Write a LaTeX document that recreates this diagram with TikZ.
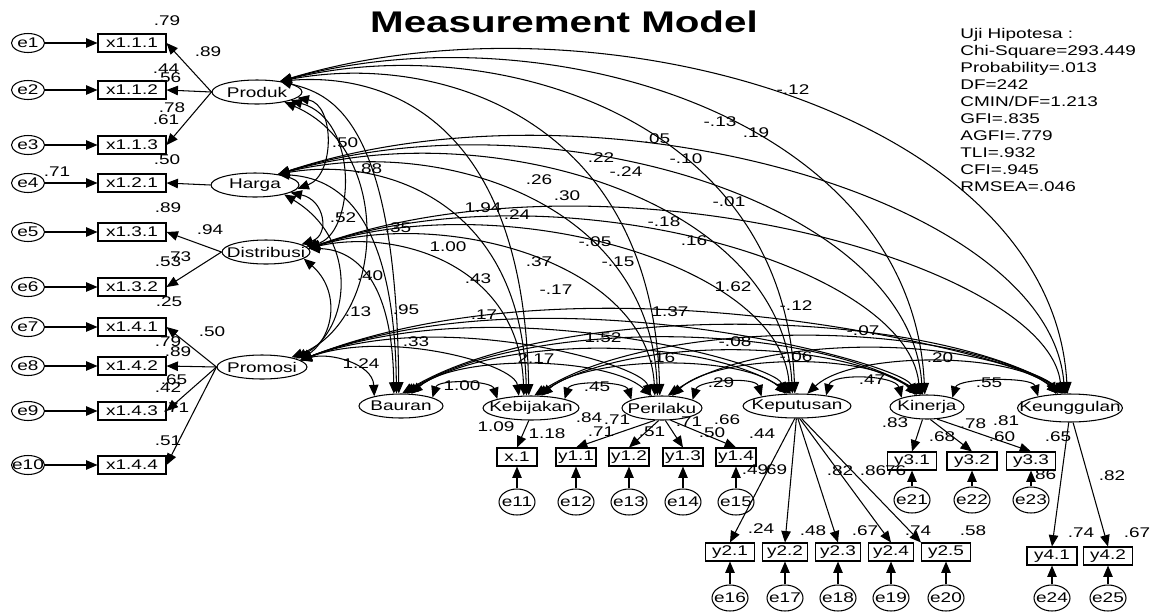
\documentclass[tikz,border=0pt]{standalone}
\usepackage{fontspec}
\setmainfont{Liberation Sans}[FakeStretch=1.35]
\usetikzlibrary{shapes.geometric, arrows.meta, calc}

\begin{document}
\begin{tikzpicture}[
  x=0.02cm, y=-0.02cm,
  font=\fontsize{8}{9.7}\selectfont,
  latent/.style={ellipse, draw, inner sep=0pt, minimum height=0.48cm, line width=0.6pt},
  obsbox/.style={rectangle, draw, inner sep=0pt, minimum height=0.36cm, line width=0.6pt},
  errnode/.style={ellipse, draw, inner sep=0pt, line width=0.6pt},
  lerr/.style={errnode, minimum width=0.66cm, minimum height=0.38cm},
  berr/.style={errnode, minimum width=0.72cm, minimum height=0.52cm},
  wlab/.style={inner sep=0pt},
  arr/.style={-{Triangle[length=6.5pt,width=5.4pt]}, line width=0.6pt},
  cor/.style={{Triangle[length=6.5pt,width=5.4pt]}-{Triangle[length=6.5pt,width=5.4pt]}, line width=0.6pt},
]
\useasboundingbox (0,0) rectangle (1154,613);

% ============================================================
% TITLE AND FIT STATISTICS
% ============================================================
\node[font=\fontsize{17}{20}\selectfont\bfseries] (title) at (564,22) {Measurement Model};
\node[anchor=north west, align=left, inner sep=0pt] (uji) at (960,28) {%
  Uji Hipotesa :\\
  Chi-Square=293.449\\
  Probability=.013\\
  DF=242\\
  CMIN/DF=1.213\\
  GFI=.835\\
  AGFI=.779\\
  TLI=.932\\
  CFI=.945\\
  RMSEA=.046};

% ============================================================
% LATENT VARIABLES
% ============================================================
\node[latent, minimum width=1.8cm] (produk) at (257,92) {\makebox[0pt]{Produk}};
\node[latent, minimum width=1.76cm] (harga) at (255,185) {\makebox[0pt]{Harga}};
\node[latent, minimum width=1.76cm] (distribusi) at (266,252) {\makebox[0pt]{Distribusi}};
\node[latent, minimum width=1.8cm] (promosi) at (262,367) {\makebox[0pt]{Promosi}};

\node[latent, minimum width=1.68cm] (bauran) at (401,406) {\makebox[0pt]{Bauran}};
\node[latent, minimum width=1.92cm] (kebijakan) at (531,408) {\makebox[0pt]{Kebijakan}};
\node[latent, minimum width=1.6cm] (perilaku) at (662,408) {\makebox[0pt]{Perilaku}};
\node[latent, minimum width=2.16cm] (keputusan) at (797,406) {\makebox[0pt]{Keputusan}};
\node[latent, minimum width=1.48cm] (kinerja) at (927,407) {\makebox[0pt]{Kinerja}};
\node[latent, minimum width=2.1cm, minimum height=0.56cm] (keunggulan) at (1070,408) {\makebox[0pt]{Keunggulan}};

% ============================================================
% LEFT INDICATORS + ERRORS
% ============================================================
\foreach \n/\t/\y in {x111/x1.1.1/43, x112/x1.1.2/90, x113/x1.1.3/145, x121/x1.2.1/183,
    x131/x1.3.1/232, x132/x1.3.2/287, x141/x1.4.1/327, x142/x1.4.2/366,
    x143/x1.4.3/411, x144/x1.4.4/465}
  \node[obsbox, minimum width=1.36cm] (\n) at (132,\y) {\t};

\foreach \i/\y in {1/43, 2/90, 3/145, 4/183, 5/232, 6/287, 7/327, 8/366, 9/411, 10/465}
  \node[lerr] (e\i) at (28,\y) {\makebox[0pt]{e\i}};

\foreach \i/\n in {1/x111, 2/x112, 3/x113, 4/x121, 5/x131, 6/x132, 7/x141, 8/x142, 9/x143, 10/x144}
  \draw[arr] (e\i) -- (\n);

% loadings
\draw[arr] (produk.west) -- (x111.east);
\draw[arr] (produk.west) -- (x112.east);
\draw[arr] (produk.west) -- (x113.east);
\draw[arr] (harga.west) -- (x121.east);
\draw[arr] (distribusi.west) -- (x131.east);
\draw[arr] (distribusi.west) -- (x132.east);
\draw[arr] (promosi.west) -- (x141.east);
\draw[arr] (promosi.west) -- (x142.east);
\draw[arr] (promosi.west) -- (x143.east);
\draw[arr] (promosi.west) -- (x144.east);

% ============================================================
% BOTTOM INDICATORS + ERRORS
% ============================================================
\foreach \n/\t/\x/\y/\w in {x1/x.1/517/457/0.8, y11/y1.1/576/457/0.8, y12/y1.2/629/457/0.8,
    y13/y1.3/683/457/0.8, y14/y1.4/736/457/0.8,
    y21/y2.1/730/552/0.98, y22/y2.2/785/552/0.9, y23/y2.3/838/552/0.9,
    y24/y2.4/891/552/0.9, y25/y2.5/946/552/0.98,
    y31/y3.1/912/461/0.98, y32/y3.2/972/461/1.0, y33/y3.3/1031/461/0.98,
    y41/y4.1/1052/556/1.0, y42/y4.2/1108/556/0.98}
  \node[obsbox, minimum width=\w cm] (\n) at (\x,\y) {\t};

\foreach \i/\n/\x/\y in {11/x1/517/502, 12/y11/576/502, 13/y12/629/502, 14/y13/683/502,
    15/y14/736/502, 16/y21/730/598, 17/y22/785/598, 18/y23/838/598, 19/y24/891/598,
    20/y25/946/598, 21/y31/912/500, 22/y32/972/500, 23/y33/1031/500,
    24/y41/1052/598, 25/y42/1108/598}
{
  \node[berr] (e\i) at (\x,\y) {\makebox[0pt]{e\i}};
  \draw[arr] (e\i) -- (\n);
}

% loadings
\draw[arr] (kebijakan.-100) -- (x1.north);
\draw[arr] (perilaku.-120) -- (y11.north);
\draw[arr] (perilaku.-105) -- (y12.north);
\draw[arr] (perilaku.-75) -- (y13.north);
\draw[arr] (perilaku.-55) -- (y14.north);
\draw[arr] (keputusan.-100) -- (y21.north);
\draw[arr] (keputusan.-93) -- (y22.north);
\draw[arr] (keputusan.-86) -- (y23.north);
\draw[arr] (keputusan.-78) -- (y24.north);
\draw[arr] (keputusan.-70) -- (y25.north west);
\draw[arr] (kinerja.-110) -- (y31.north);
\draw[arr] (kinerja.-75) -- (y32.north);
\draw[arr] (kinerja.-50) -- (y33.north);
\draw[arr] (keunggulan.-95) -- (y41.north);
\draw[arr] (keunggulan.-78) -- (y42.north);

% ============================================================
% CORRELATIONS
% ============================================================
% left column
\draw[cor] (produk.-8) .. controls (335,105) and (335,175) .. (harga.-5);
\draw[cor] (produk.-14) .. controls (360,120) and (355,235) .. (distribusi.8);
\draw[cor] (produk.-20) .. controls (395,150) and (385,320) .. (promosi.18);
\draw[cor] (harga.-12) .. controls (325,200) and (330,235) .. (distribusi.12);
\draw[cor] (harga.-18) .. controls (360,240) and (350,330) .. (promosi.14);
\draw[cor] (distribusi.-10) .. controls (340,290) and (335,335) .. (promosi.10);

% left column to bottom row
\foreach \s/\t in {produk.25/bauran.100, produk.25/kebijakan.100, produk.25/perilaku.100,
    produk.25/keputusan.100, produk.25/kinerja.100, produk.25/keunggulan.100,
    harga.25/bauran.110, harga.25/kebijakan.110, harga.25/perilaku.110,
    harga.25/keputusan.110, harga.25/kinerja.110, harga.25/keunggulan.110,
    distribusi.5/bauran.120, distribusi.5/kebijakan.120, distribusi.5/perilaku.120,
    distribusi.5/keputusan.120, distribusi.5/kinerja.120, distribusi.5/keunggulan.120,
    promosi.10/bauran.160, promosi.10/kebijakan.135, promosi.10/perilaku.135,
    promosi.10/keputusan.135, promosi.10/kinerja.135, promosi.10/keunggulan.135}
  \draw[cor] let \p1=(\s), \p2=(\t) in (\p1)
    .. controls ({\x1+0.4*(\x2-\x1)},{\y1+0.16*(\x2-\x1)+0.1*(\y2-\y1)})
    and ({\x2-0.02*(\x2-\x1)},{\y1+0.1*(\y2-\y1)}) .. (\p2);

% bottom row among themselves
\foreach \a/\b/\h/\w in {bauran.15/kebijakan.165/14/6, kebijakan.15/perilaku.165/14/6,
    perilaku.15/keputusan.165/15/6, keputusan.20/kinerja.160/17/6, kinerja.20/keunggulan.160/15/6,
    bauran.50/perilaku.130/30/45, kebijakan.50/keputusan.130/30/45,
    perilaku.50/kinerja.130/32/45, keputusan.50/keunggulan.130/32/45,
    bauran.65/keputusan.115/44/90, kebijakan.65/kinerja.115/44/90, perilaku.65/keunggulan.115/46/90,
    bauran.75/kinerja.105/56/120, kebijakan.75/keunggulan.105/58/120,
    bauran.85/keunggulan.95/68/150}
  \draw[cor] (\a) .. controls +(\w,-1.33*\h) and +(-\w,-1.33*\h) .. (\b);

% ============================================================
% ESTIMATES
% ============================================================
\foreach \px/\py/\t [count=\i] in {
    167/21/.79, 208/52/.89, 166/69/.44, 168/78/.56, 172/108/.78, 166/120/.61,
    167/160/.50, 57/172/.71, 168/208/.89, 210/230/.94, 178/257/.73, 168/262/.53,
    169/302/.25, 212/332/.50, 168/342/.79, 178/352/.89, 174/380/.65, 168/388/.42,
    176/408/.71, 168/441/.51,
    496/427/1.09, 547/434/1.18, 589/418/.84, 617/420/.71, 601/432/.71, 652/432/.51,
    689/422/.71, 727/420/.66, 712/433/.50, 755/470/.49, 774/470/.69, 762/434/.44,
    840/471/.82, 873/471/.86, 893/471/.76, 895/423/.83, 942/437/.68, 973/424/.78,
    1006/421/.81, 1002/437/.60, 1043/475/.86, 1058/437/.65, 1112/476/.82,
    1081/533/.74, 1137/533/.67, 761/529/.24, 813/531/.48, 865/531/.67,
    918/531/.74, 973/531/.58}
  \node[wlab] (est\i) at (\px,\py) {\t};

\foreach \px/\py/\t [count=\i] in {
    793/90/-.12, 720/122/-.13, 756/133/.19, 657/139/.05, 686/159/-.10, 601/158/.22,
    626/172/-.24, 539/180/.26, 567/196/.30, 729/202/-.01, 345/143/.50, 369/169/.88,
    483/208/1.94, 517/215/.24, 664/222/-.18, 694/241/.16, 343/218/.52, 398/228/.35,
    448/247/1.00, 595/242/-.05, 618/262/-.15, 539/262/.37, 370/276/.40, 478/279/.43,
    556/290/-.17, 733/287/1.62, 670/312/1.37, 796/306/-.12, 863/331/-.07, 603/338/1.52,
    735/342/-.08, 662/358/.16, 796/357/-.06, 940/358/.20, 358/312/.13, 406/310/.95,
    484/315/.17, 416/342/.33, 361/364/1.24, 536/359/2.17, 462/386/1.00, 597/387/.45,
    721/383/.29, 872/380/.47, 989/383/.55}
  \node[wlab] (corr\i) at (\px,\py) {\t};

\end{tikzpicture}
\end{document}
